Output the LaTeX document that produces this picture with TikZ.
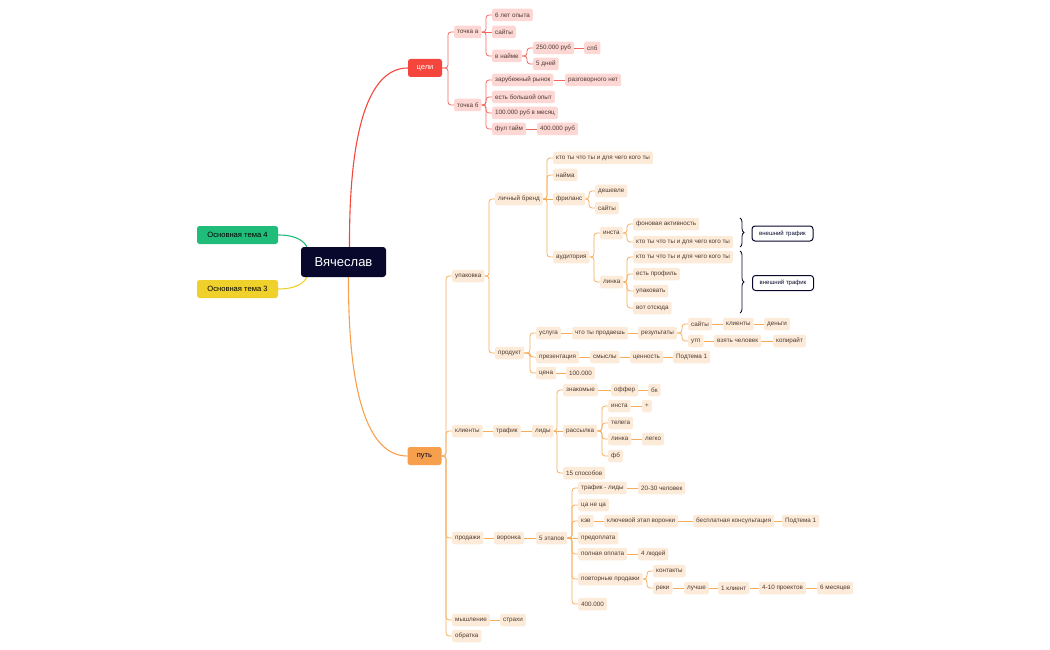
\documentclass[tikz,border=0pt]{standalone}
\usepackage{fontspec}
\setmainfont{Liberation Sans}
\usetikzlibrary{decorations.pathreplacing,backgrounds}
\definecolor{hubc}{HTML}{07082B}
\definecolor{redmain}{HTML}{F4463C}
\definecolor{redlt}{HTML}{FDD7D3}
\definecolor{redln}{HTML}{F4675F}
\definecolor{orgmain}{HTML}{F6A04D}
\definecolor{orglt}{HTML}{FDEBD9}
\definecolor{orgln}{HTML}{F7AC5C}
\definecolor{grn}{HTML}{20BC7A}
\definecolor{ylw}{HTML}{F0D12B}
\definecolor{subtxt}{HTML}{4D3A30}
\tikzset{
  tbox/.style={rounded corners=2pt, inner xsep=3pt, inner ysep=0pt, minimum height=12.5pt,
    anchor=west, text=subtxt, font=\fontsize{6.3}{7}\selectfont},
  rsub/.style={tbox, fill=redlt},
  osub/.style={tbox, fill=orglt},
  rln/.style={draw=redln, line width=0.8pt, rounded corners=3pt},
  oln/.style={draw=orgln, line width=0.8pt, rounded corners=3pt},
  topic/.style={rounded corners=2.5pt, minimum width=34pt, minimum height=18pt, inner sep=0pt,
    font=\fontsize{7.5}{9}\selectfont},
  side/.style={rounded corners=2.5pt, minimum width=81pt, minimum height=18pt, inner sep=0pt,
    text=black, font=\fontsize{7.6}{9}\selectfont},
  extbox/.style={draw=hubc, line width=1pt, fill=white, rounded corners=3pt, minimum width=61pt,
    minimum height=15pt, inner sep=0pt, text=hubc, font=\fontsize{6}{7}\selectfont},
  brc/.style={draw=hubc, line width=0.8pt, decorate, decoration={brace, amplitude=4pt}}
}
% spine connector and straight connector
\newcommand\tie[3]{\draw[#1] (#2.east) -- ([xshift=-6pt]#3.west |- #2.east) |- (#3.west);}
\newcommand\lnk[3]{\draw[#1] (#2.east) -- (#3.west);}

\begin{document}
\begin{tikzpicture}[x=1pt,y=-1pt]
        \useasboundingbox (0,0) rectangle (1050,650);
        % center and main topics
        \node[fill=hubc, text=white, rounded corners=3pt, minimum width=85pt, minimum height=30pt,
          inner sep=0pt, font=\fontsize{13}{15}\selectfont](me) at (343.5,262) {Вячеслав};
        \node[side, fill=grn](t4) at (237.5,235) {Основная тема 4};
        \node[side, fill=ylw](t3) at (237.5,289) {Основная тема 3};
        \node[topic, fill=redmain, text=white](goal) at (425,68) {цели};
        \node[topic, fill=orgmain, text=hubc](path) at (424.5,456) {путь};

        % цели
        \node[rsub](pa) at (454,32) {точка а};
        \node[rsub](pb) at (454,105) {точка б};
        \node[rsub](a1) at (492,15) {6 лет опыта};
        \node[rsub](a2) at (492,32) {сайты};
        \node[rsub](a3) at (492,56) {в найме};
        \node[rsub](a31) at (533,48) {250.000 руб};
        \node[rsub](a311) at (584,48) {спб};
        \node[rsub](a32) at (533,64) {5 дней};
        \node[rsub](b1) at (492,80) {зарубежный рынок};
        \node[rsub](b11) at (565,80) {разговорного нет};
        \node[rsub](b2) at (492,97) {есть большой опыт};
        \node[rsub](b3) at (492,113) {100.000 руб в месяц};
        \node[rsub](b4) at (492,129) {фул тайм};
        \node[rsub](b41) at (537,129) {400.000 руб};

        % путь
        \node[osub](pack) at (452,276) {упаковка};
        \node[osub](cli) at (452,431) {клиенты};
        \node[osub](sales) at (452,538) {продажи};
        \node[osub](mind) at (452,620) {мышление};
        \node[osub](back) at (452,636) {обратка};

        \node[osub](brand) at (495,199) {личный бренд};
        \node[osub](br1) at (553,158) {кто ты что ты и для чего кого ты};
        \node[osub](br2) at (553,175) {найма};
        \node[osub](br3) at (553,199) {фриланс};
        \node[osub](br4) at (553,257) {аудитория};
        \node[osub](fr1) at (595,191) {дешевле};
        \node[osub](fr2) at (595,208) {сайты};
        \node[osub](ins) at (600,233) {инста};
        \node[osub](lin) at (600,282) {линка};
        \node[osub](in1) at (633,224) {фоновая активность};
        \node[osub](in2) at (633,242) {кто ты что ты и для чего кого ты};
        \node[osub](ln1) at (633,257) {кто ты что ты и для чего кого ты};
        \node[osub](ln2) at (633,274) {есть профиль};
        \node[osub](ln3) at (633,291) {упаковать};
        \node[osub](ln4) at (633,308) {вот отсюда};
        \draw[brc] (740,218) -- (740,247);
        \draw[brc] (740,251) -- (740,313);
        \node[extbox](ex1) at (782.5,233.5) {внешний трафик};
        \node[extbox](ex2) at (783,283) {внешний трафик};

        \node[osub](prod) at (495,353) {продукт};
        \node[osub](srv) at (536,333) {услуга};
        \node[osub](sell) at (572,333) {что ты продаешь};
        \node[osub](res) at (638,333) {результаты};
        \node[osub](rs1) at (688,324) {сайты};
        \node[osub](rs11) at (723,324) {клиенты};
        \node[osub](rs111) at (764,324) {деньги};
        \node[osub](rs2) at (688,341) {утп};
        \node[osub](rs21) at (714,341) {взять человек};
        \node[osub](rs211) at (773,341) {копирайт};
        \node[osub](pres) at (536,357) {презентация};
        \node[osub](sm) at (590,357) {смыслы};
        \node[osub](val) at (630,357) {ценность};
        \node[osub](sub1) at (673,357) {Подтема 1};
        \node[osub](price) at (536,373) {цена};
        \node[osub](pr1) at (566,373) {100.000};

        \node[osub](traf) at (493,431) {трафик};
        \node[osub](lead) at (532,431) {лиды};
        \node[osub](kn) at (563,390) {знакомые};
        \node[osub](off) at (611,390) {оффер};
        \node[osub](bk) at (648,390) {бк};
        \node[osub](mail) at (563,431) {рассылка};
        \node[osub](ml1) at (608,406) {инста};
        \node[osub](ml11) at (642,406) {+};
        \node[osub](ml2) at (608,423) {телега};
        \node[osub](ml3) at (608,439) {линка};
        \node[osub](ml31) at (642,439) {легко};
        \node[osub](ml4) at (608,456) {фб};
        \node[osub](ways) at (563,473) {15 способов};

        \node[osub](fun) at (494,538) {воронка};
        \node[osub](st5) at (536,538) {5 этапов};
        \node[osub](f1) at (578,488) {трафик - лиды};
        \node[osub](f11) at (638,488) {20-30 человек};
        \node[osub](f2) at (578,505) {ца не ца};
        \node[osub](f3) at (578,521) {кэв};
        \node[osub](f31) at (604,521) {ключевой этап воронки};
        \node[osub](f311) at (693,521) {бесплатная консультация};
        \node[osub](f3111) at (782,521) {Подтема 1};
        \node[osub](f4) at (578,538) {предоплата};
        \node[osub](f5) at (578,554) {полная оплата};
        \node[osub](f51) at (638,554) {4 людей};
        \node[osub](f6) at (578,579) {повторные продажи};
        \node[osub](c1) at (653,571) {контакты};
        \node[osub](c2) at (653,588) {реки};
        \node[osub](c21) at (684,588) {лучше};
        \node[osub](c22) at (718,588) {1 клиент};
        \node[osub](c23) at (759,588) {4-10 проектов};
        \node[osub](c24) at (817,588) {6 месяцев};
        \node[osub](f7) at (578,604) {400.000};
        \node[osub](fear) at (500,620) {страхи};

        \begin{scope}[on background layer]
        \draw[grn, line width=1.1pt] (t4.east) .. controls (296,235) and (304,241) .. ([xshift=6pt]me.north west);
        \draw[ylw, line width=1.1pt] (t3.east) .. controls (296,289) and (304,283) .. ([xshift=6pt]me.south west);
        \draw[redmain, line width=1.1pt] ([xshift=6pt]me.north) .. controls (349,120) and (372,68) .. (goal.west);
        \draw[orgmain, line width=1.1pt] ([xshift=5pt]me.south) .. controls (348,400) and (370,456) .. (path.west);

        \tie{rln}{goal}{pa}
        \tie{rln}{goal}{pb}
        \tie{rln}{pa}{a1}
        \lnk{rln}{pa}{a2}
        \tie{rln}{pa}{a3}
        \tie{rln}{a3}{a31}
        \tie{rln}{a3}{a32}
        \lnk{rln}{a31}{a311}
        \tie{rln}{pb}{b1}
        \tie{rln}{pb}{b2}
        \tie{rln}{pb}{b3}
        \tie{rln}{pb}{b4}
        \lnk{rln}{b1}{b11}
        \lnk{rln}{b4}{b41}

        \tie{oln}{path}{pack}
        \tie{oln}{path}{cli}
        \tie{oln}{path}{sales}
        \tie{oln}{path}{mind}
        \tie{oln}{path}{back}
        \tie{oln}{pack}{brand}
        \tie{oln}{pack}{prod}
        \tie{oln}{brand}{br1}
        \tie{oln}{brand}{br2}
        \lnk{oln}{brand}{br3}
        \tie{oln}{brand}{br4}
        \tie{oln}{br3}{fr1}
        \tie{oln}{br3}{fr2}
        \tie{oln}{br4}{ins}
        \tie{oln}{br4}{lin}
        \tie{oln}{ins}{in1}
        \tie{oln}{ins}{in2}
        \tie{oln}{lin}{ln1}
        \tie{oln}{lin}{ln2}
        \tie{oln}{lin}{ln3}
        \tie{oln}{lin}{ln4}
        \tie{oln}{prod}{srv}
        \tie{oln}{prod}{pres}
        \tie{oln}{prod}{price}
        \lnk{oln}{srv}{sell}
        \lnk{oln}{sell}{res}
        \tie{oln}{res}{rs1}
        \tie{oln}{res}{rs2}
        \lnk{oln}{rs1}{rs11}
        \lnk{oln}{rs11}{rs111}
        \lnk{oln}{rs2}{rs21}
        \lnk{oln}{rs21}{rs211}
        \lnk{oln}{pres}{sm}
        \lnk{oln}{sm}{val}
        \lnk{oln}{val}{sub1}
        \lnk{oln}{price}{pr1}
        \lnk{oln}{cli}{traf}
        \lnk{oln}{traf}{lead}
        \tie{oln}{lead}{kn}
        \lnk{oln}{lead}{mail}
        \tie{oln}{lead}{ways}
        \lnk{oln}{kn}{off}
        \lnk{oln}{off}{bk}
        \tie{oln}{mail}{ml1}
        \tie{oln}{mail}{ml2}
        \tie{oln}{mail}{ml3}
        \tie{oln}{mail}{ml4}
        \lnk{oln}{ml1}{ml11}
        \lnk{oln}{ml3}{ml31}
        \lnk{oln}{sales}{fun}
        \lnk{oln}{fun}{st5}
        \tie{oln}{st5}{f1}
        \tie{oln}{st5}{f2}
        \tie{oln}{st5}{f3}
        \lnk{oln}{st5}{f4}
        \tie{oln}{st5}{f5}
        \tie{oln}{st5}{f6}
        \tie{oln}{st5}{f7}
        \lnk{oln}{f1}{f11}
        \lnk{oln}{f3}{f31}
        \lnk{oln}{f31}{f311}
        \lnk{oln}{f311}{f3111}
        \lnk{oln}{f5}{f51}
        \tie{oln}{f6}{c1}
        \tie{oln}{f6}{c2}
        \lnk{oln}{c2}{c21}
        \lnk{oln}{c21}{c22}
        \lnk{oln}{c22}{c23}
        \lnk{oln}{c23}{c24}
        \lnk{oln}{mind}{fear}
        \end{scope}
        \end{tikzpicture}
\end{document}
